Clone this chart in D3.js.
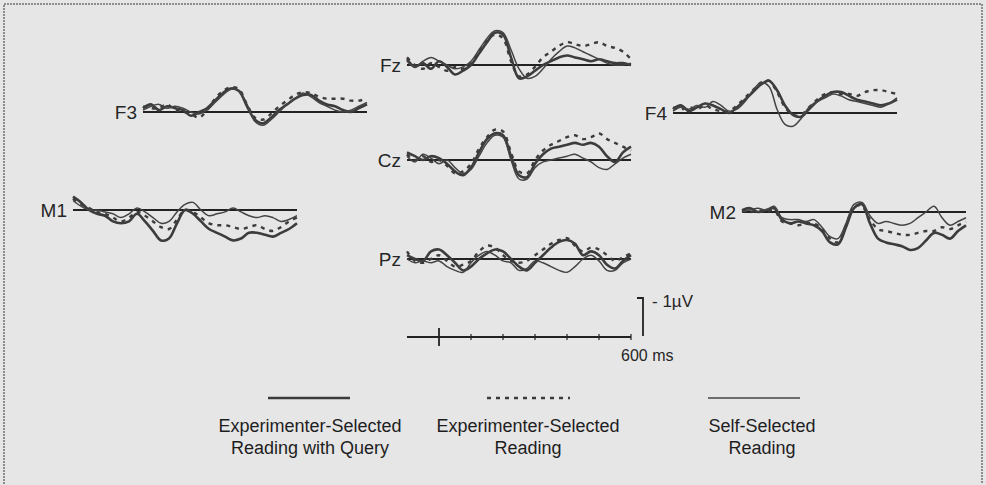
<!DOCTYPE html>
<html><head><meta charset="utf-8">
<script src="https://cdn.jsdelivr.net/npm/d3@7"></script>
<style>body{margin:0;background:#e6e6e6}svg{display:block}</style>
</head><body><svg id="c" width="986" height="485"></svg>
<script>
// time points (ms) and values (µV, negative plotted up)
const times = d3.range(-100, 601, 25);
const seriesNames = ["Experimenter-Selected Reading with Query", "Experimenter-Selected Reading", "Self-Selected Reading"];
const legendLines1 = ["Experimenter-Selected", "Experimenter-Selected", "Self-Selected"];
const legendLines2 = ["Reading with Query", "Reading", "Reading"];
const electrodes = ["F3", "Fz", "F4", "M1", "Cz", "M2", "Pz"];
const scaleTicks = [0, 100, 200, 300, 400, 500, 600];
const scaleLabelTime = "600 ms";
const scaleLabelAmp = "- 1µV";

const F3_query = [-0.1,-0.2,-0.05,-0.15,-0.1,-0.05,0.1,0.0,-0.1,-0.3,-0.5,-0.62,-0.55,-0.15,0.2,0.3,0.15,-0.05,-0.2,-0.35,-0.45,-0.45,-0.3,-0.2,-0.15,-0.05,0.0,-0.1,-0.2];
const F3_exp   = [-0.15,-0.1,-0.1,-0.2,-0.05,0.0,0.05,0.15,-0.05,-0.35,-0.55,-0.65,-0.6,-0.2,0.15,0.2,0.05,-0.15,-0.3,-0.45,-0.52,-0.5,-0.4,-0.35,-0.35,-0.35,-0.3,-0.3,-0.35];
const F3_self  = [-0.05,-0.15,-0.2,-0.1,-0.15,-0.1,0.0,0.05,-0.05,-0.25,-0.45,-0.6,-0.55,-0.2,0.25,0.35,0.2,0.0,-0.2,-0.35,-0.5,-0.4,-0.25,-0.15,-0.05,0.0,-0.05,-0.15,-0.25];

const Fz_query = [-0.15,0.05,-0.05,0.1,-0.1,0.05,0.25,0.15,0.0,-0.3,-0.6,-0.85,-0.8,-0.2,0.35,0.3,0.15,0.0,-0.1,-0.2,-0.25,-0.2,-0.15,-0.1,-0.15,-0.1,-0.05,-0.05,0.0];
const Fz_exp   = [-0.2,0.0,0.1,-0.05,0.05,0.15,0.05,0.1,-0.05,-0.35,-0.65,-0.8,-0.7,-0.1,0.3,0.25,0.05,-0.2,-0.35,-0.5,-0.6,-0.55,-0.5,-0.55,-0.6,-0.5,-0.45,-0.35,-0.15];
const Fz_self  = [-0.1,0.05,-0.1,-0.2,-0.1,0.0,0.1,0.05,-0.1,-0.4,-0.7,-0.9,-0.85,-0.4,0.1,0.35,0.3,0.1,-0.15,-0.35,-0.5,-0.45,-0.35,-0.25,-0.15,-0.05,0.0,0.0,-0.05];

const F4_query = [-0.1,-0.2,-0.05,-0.15,-0.25,-0.2,-0.1,0.0,-0.15,-0.35,-0.55,-0.75,-0.85,-0.6,-0.2,0.05,0.1,-0.1,-0.3,-0.45,-0.55,-0.55,-0.45,-0.35,-0.3,-0.25,-0.2,-0.25,-0.35];
const F4_exp   = [-0.15,-0.1,-0.15,-0.1,-0.2,-0.1,-0.05,-0.05,-0.2,-0.4,-0.6,-0.8,-0.85,-0.55,-0.15,0.05,0.05,-0.15,-0.35,-0.5,-0.55,-0.5,-0.5,-0.45,-0.55,-0.6,-0.6,-0.55,-0.5];
const F4_self  = [-0.05,-0.15,-0.1,-0.2,-0.15,-0.3,-0.2,-0.05,-0.1,-0.3,-0.6,-0.8,-0.7,-0.1,0.3,0.35,0.15,-0.15,-0.3,-0.4,-0.5,-0.45,-0.35,-0.3,-0.25,-0.2,-0.15,-0.25,-0.4];

const M1_query = [-0.35,-0.2,0.0,0.1,0.15,0.3,0.35,0.3,0.1,0.3,0.55,0.8,0.75,0.35,0.0,0.1,0.3,0.5,0.6,0.7,0.8,0.75,0.6,0.6,0.65,0.7,0.6,0.5,0.35];
const M1_exp   = [-0.3,-0.15,-0.05,0.05,0.1,0.2,0.3,0.2,0.05,0.15,0.3,0.45,0.5,0.25,0.0,0.05,0.2,0.35,0.4,0.4,0.45,0.5,0.45,0.4,0.5,0.55,0.45,0.3,0.2];
const M1_self  = [-0.25,-0.1,0.0,0.0,0.05,0.1,0.2,0.1,-0.05,0.05,0.2,0.35,0.3,0.05,-0.15,-0.2,0.0,0.15,0.1,0.05,-0.05,0.05,0.15,0.2,0.15,0.2,0.3,0.25,0.15];

const Cz_query = [-0.2,-0.1,0.0,-0.1,-0.05,0.1,0.3,0.4,0.2,-0.2,-0.55,-0.7,-0.65,-0.1,0.4,0.45,0.1,-0.15,-0.3,-0.35,-0.4,-0.45,-0.4,-0.45,-0.35,-0.1,0.05,-0.2,-0.35];
const Cz_exp   = [-0.15,0.0,-0.1,0.05,0.0,0.15,0.35,0.3,0.1,-0.3,-0.6,-0.8,-0.75,-0.2,0.3,0.35,0.0,-0.25,-0.4,-0.5,-0.6,-0.65,-0.55,-0.6,-0.7,-0.55,-0.45,-0.35,-0.25];
const Cz_self  = [-0.1,0.05,-0.15,-0.05,0.1,0.0,0.2,0.35,0.25,-0.1,-0.45,-0.65,-0.6,0.0,0.5,0.5,0.2,0.05,0.0,-0.05,-0.1,-0.15,-0.05,0.05,0.2,0.25,0.1,-0.05,-0.15];

const M2_query = [-0.05,-0.1,0.0,-0.05,-0.1,0.2,0.3,0.25,0.3,0.35,0.5,0.8,0.85,0.4,-0.1,-0.2,0.3,0.7,0.8,0.85,0.9,1.0,0.95,0.75,0.55,0.6,0.7,0.5,0.35];
const M2_exp   = [-0.05,0.0,-0.05,0.0,-0.05,0.25,0.3,0.35,0.3,0.3,0.45,0.7,0.8,0.35,-0.15,-0.15,0.2,0.45,0.5,0.55,0.6,0.6,0.55,0.5,0.5,0.4,0.45,0.35,0.25];
const M2_self  = [0.0,-0.05,-0.1,-0.05,-0.15,0.15,0.2,0.2,0.25,0.2,0.4,0.65,0.7,0.3,-0.2,-0.25,0.1,0.3,0.25,0.3,0.35,0.3,0.15,0.0,-0.15,0.15,0.35,0.25,0.15];

const Pz_query = [-0.1,0.0,0.05,-0.2,-0.25,-0.1,0.1,0.3,0.2,0.0,-0.15,-0.25,-0.2,0.0,0.2,0.3,0.1,-0.1,-0.3,-0.45,-0.5,-0.4,-0.1,-0.2,-0.1,0.15,0.25,0.05,-0.1];
const Pz_exp   = [-0.2,0.05,0.1,0.0,-0.1,0.05,0.2,0.15,0.05,-0.2,-0.35,-0.3,-0.1,0.05,0.1,0.05,-0.1,-0.25,-0.4,-0.5,-0.55,-0.35,-0.2,-0.3,-0.25,-0.1,0.05,-0.05,-0.15];
const Pz_self  = [0.0,0.1,0.05,0.1,0.05,0.2,0.3,0.35,0.1,-0.1,-0.2,-0.1,0.05,0.1,0.3,0.25,0.05,0.1,0.2,0.3,0.35,0.2,0.0,-0.1,0.05,0.3,0.3,0.1,0.0];

const waveData = {
  F3: [F3_query, F3_exp, F3_self], Fz: [Fz_query, Fz_exp, Fz_self], F4: [F4_query, F4_exp, F4_self],
  M1: [M1_query, M1_exp, M1_self], Cz: [Cz_query, Cz_exp, Cz_self], M2: [M2_query, M2_exp, M2_self],
  Pz: [Pz_query, Pz_exp, Pz_self]
};

// ---- layout (positions, not data) ----
const layout = {
  F3: {x: 143, y: 112}, Fz: {x: 407, y: 65}, F4: {x: 673, y: 113},
  M1: {x: 73, y: 210}, Cz: {x: 407, y: 160}, M2: {x: 742, y: 212},
  Pz: {x: 407, y: 259}
};
const panelW = 224, pxPerUV = 38;
const ink = "#262626";
const styles = [
  {w: 2.6, dash: null, color: "#3c3c3c"},
  {w: 2.4, dash: "4,5", color: "#3c3c3c"},
  {w: 1.5, dash: null, color: "#444"}
];
const font = "'Liberation Sans', Arial, sans-serif";

const svg = d3.select("#c");
svg.append("rect").attr("width", 986).attr("height", 485).attr("fill", "#e6e6e6");
// frame edges of the scan
svg.append("path").attr("d", "M4,484 L4,4 L982,4 L982,484").attr("fill", "none")
  .attr("stroke", "#707070").attr("stroke-width", 1.5).attr("stroke-dasharray", "2,1");

electrodes.forEach(name => {
  const L = layout[name];
  const x = d3.scaleLinear().domain([-100, 600]).range([L.x, L.x + panelW]);
  const y = d3.scaleLinear().domain([0, 1]).range([L.y, L.y + pxPerUV]);
  const g = svg.append("g");
  g.append("line").attr("x1", x(-100)).attr("x2", x(600)).attr("y1", y(0)).attr("y2", y(0))
    .attr("stroke", "#222").attr("stroke-width", 1.8);
  const line = d3.line().x((d, i) => x(times[i])).y(d => y(d)).curve(d3.curveCatmullRom.alpha(0.5));
  waveData[name].forEach((vals, k) => {
    const s = styles[k];
    g.append("path").attr("d", line(vals)).attr("fill", "none")
      .attr("stroke", s.color).attr("stroke-width", s.w)
      .attr("stroke-dasharray", s.dash).attr("stroke-linejoin", "round");
  });
  g.append("text").attr("x", x(-100) - 6).attr("y", y(0) + 7).attr("text-anchor", "end")
    .attr("font-family", font).attr("font-size", 19).attr("fill", ink).text(name);
});

// ---- scale bars ----
const sx = d3.scaleLinear().domain([-100, 600]).range([407, 631]);
const sBase = 337;
const sy = d3.scaleLinear().domain([0, -1]).range([sBase - 1, sBase - 1 - pxPerUV]);
const sb = svg.append("g").attr("stroke", "#222");
sb.append("line").attr("x1", sx(-100)).attr("x2", sx(600)).attr("y1", sBase).attr("y2", sBase).attr("stroke-width", 1.8);
scaleTicks.forEach(t => {
  const h = t === 0 ? 9 : 3;
  sb.append("line").attr("x1", sx(t)).attr("x2", sx(t)).attr("y1", sBase - h).attr("y2", sBase + h)
    .attr("stroke-width", t === 0 ? 1.8 : 1.2);
});
sb.append("path").attr("d", `M637,${sy(-1)} L643,${sy(-1)} L643,${sy(0)}`).attr("fill", "none").attr("stroke-width", 1.8);
svg.append("text").attr("x", 652).attr("y", sy(-1) + 9).attr("font-family", font).attr("font-size", 17)
  .attr("fill", ink).text(scaleLabelAmp);
svg.append("text").attr("x", 621).attr("y", 361).attr("font-family", font).attr("font-size", 16)
  .attr("fill", ink).text(scaleLabelTime);

// ---- legend ----
const legendCenters = [310, 528, 762];
const legendLineX = [[268, 350], [487, 570], [708, 800]];
seriesNames.forEach((nm, k) => {
  const s = styles[k];
  svg.append("line").attr("x1", legendLineX[k][0]).attr("x2", legendLineX[k][1]).attr("y1", 398).attr("y2", 398)
    .attr("stroke", s.color).attr("stroke-width", s.w).attr("stroke-dasharray", s.dash);
  const t = svg.append("text").attr("text-anchor", "middle").attr("font-family", font)
    .attr("font-size", 18).attr("fill", "#1e1e1e");
  t.append("tspan").attr("x", legendCenters[k]).attr("y", 432).text(legendLines1[k]);
  t.append("tspan").attr("x", legendCenters[k]).attr("y", 454).text(legendLines2[k]);
});
</script></body></html>
